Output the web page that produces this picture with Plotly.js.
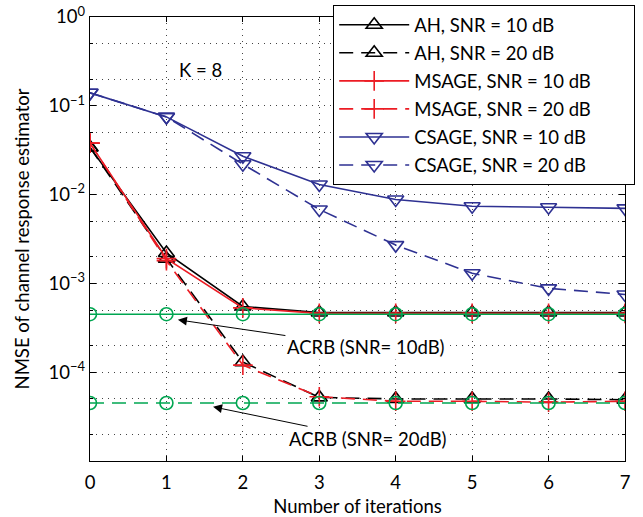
<!DOCTYPE html>
<html><head><meta charset="utf-8">
<script src="https://cdn.plot.ly/plotly-3.0.1.min.js"></script>
<style>html,body{margin:0;padding:0;background:#fff}#plot{width:643px;height:517px}</style>
</head><body><div id="plot"></div>
<script>
const iterations = [0, 1, 2, 3, 4, 5, 6, 7];
const ah10 = [0.034, 0.0022, 5.5e-4, 4.7e-4, 4.7e-4, 4.7e-4, 4.7e-4, 4.7e-4];
const ah20 = [0.034, 0.0019, 1.3e-4, 5.2e-5, 5.0e-5, 5.0e-5, 5.0e-5, 4.9e-5];
const msage10 = [0.038, 0.0019, 5.3e-4, 4.6e-4, 4.6e-4, 4.6e-4, 4.6e-4, 4.6e-4];
const msage20 = [0.038, 0.0018, 1.2e-4, 5.3e-5, 4.7e-5, 4.7e-5, 4.6e-5, 4.7e-5];
const csage10 = [0.14, 0.075, 0.027, 0.013, 0.0088, 0.0074, 0.0072, 0.0070];
const csage20 = [0.14, 0.075, 0.022, 0.0068, 0.0027, 0.0013, 0.00088, 0.00075];
const acrb10 = [4.5e-4, 4.5e-4, 4.5e-4, 4.5e-4, 4.5e-4, 4.5e-4, 4.5e-4, 4.5e-4];
const acrb20 = [4.5e-5, 4.5e-5, 4.5e-5, 4.5e-5, 4.5e-5, 4.5e-5, 4.5e-5, 4.5e-5];
const seriesNames = ['AH, SNR = 10 dB','AH, SNR = 20 dB','MSAGE, SNR = 10 dB','MSAGE, SNR = 20 dB','CSAGE, SNR = 10 dB','CSAGE, SNR = 20 dB'];
const yTickVals = [1e-4, 1e-3, 1e-2, 1e-1, 1];
const yTickText = ['10<sup>−4</sup>', '10<sup>−3</sup>', '10<sup>−2</sup>', '10<sup>−1</sup>', '10<sup>0</sup>'];

const BLACK = '#000000', RED = '#ec1c24', BLUE = '#2e3192', GREEN = '#00a651';
const DASH = '14px,8px';
const PAD = '\u00a0\u00a0\u00a0\u00a0\u00a0\u00a0\u00a0\u00a0';
function tr(y, name, color, dash, symbol, msize, grp) {
  return {x: iterations, y: y, name: name + PAD, type: 'scatter', mode: 'lines+markers',
    legendgroup: grp,
    line: {color: color, width: 1.6, dash: dash},
    marker: {symbol: symbol, size: msize, color: color, line: {color: color, width: 1.6}}};
}
const data = [
  tr(ah10, seriesNames[0], BLACK, 'solid', 'triangle-up-open', 14, 'g1'),
  tr(ah20, seriesNames[1], BLACK, DASH, 'triangle-up-open', 14, 'g2'),
  tr(msage10, seriesNames[2], RED, 'solid', 'cross-thin-open', 14, 'g3'),
  tr(msage20, seriesNames[3], RED, DASH, 'cross-thin-open', 14, 'g4'),
  tr(csage10, seriesNames[4], BLUE, 'solid', 'triangle-down-open', 14, 'g5'),
  tr(csage20, seriesNames[5], BLUE, DASH, 'triangle-down-open', 14, 'g6'),
  Object.assign(tr(acrb10, 'ACRB 10', GREEN, 'solid', 'circle-open', 13, 'g7'), {showlegend: false}),
  Object.assign(tr(acrb20, 'ACRB 20', GREEN, DASH, 'circle-open', 13, 'g8'), {showlegend: false})
];
const FONT = 'Lato, "Open Sans", sans-serif';
const FS = 18.5;
const GRID = '#444';
const layout = {
  width: 643, height: 517,
  margin: {l: 90, r: 18, t: 17, b: 56, autoexpand: false},
  paper_bgcolor: '#fff', plot_bgcolor: '#fff',
  font: {family: FONT, size: FS, color: '#000'},
  showlegend: true,
  legend: {x: 1 + 10 / 535, xanchor: 'right', y: 1 + 12 / 444, yanchor: 'top', bgcolor: '#fff',
    bordercolor: '#000', borderwidth: 1.2, font: {family: FONT, size: FS, color: '#000'},
    traceorder: 'grouped', tracegroupgap: 1, itemwidth: 70},
  xaxis: {range: [0, 7], tickvals: iterations, ticks: 'inside', ticklen: 5, tickcolor: '#000',
    showline: true, linecolor: '#000', linewidth: 1.2, mirror: 'ticks', zeroline: false,
    showgrid: true, gridcolor: GRID, griddash: '1px,5px', gridwidth: 1,
    tickfont: {family: FONT, size: FS}, ticklabelstandoff: 5,
    title: {text: 'Number of iterations', font: {family: FONT, size: FS}, standoff: 7}},
  yaxis: {type: 'log', range: [-5, 0], tickvals: yTickVals, ticktext: yTickText,
    ticks: 'inside', ticklen: 6, tickcolor: '#000',
    showline: true, linecolor: '#000', linewidth: 1.2, mirror: 'ticks', zeroline: false,
    showgrid: true, gridcolor: GRID, griddash: '1px,5px', gridwidth: 1,
    minor: {ticks: 'inside', ticklen: 3, tickcolor: '#000', showgrid: true, gridcolor: GRID, griddash: '1px,5px', gridwidth: 1},
    tickfont: {family: FONT, size: FS},
    title: {text: 'NMSE of channel response estimator', font: {family: FONT, size: FS}, standoff: 14}},
  annotations: [
    {x: 1.44, y: -0.6, xref: 'x', yref: 'y', text: 'K = 8', showarrow: false, font: {family: FONT, size: FS}},
    {x: 1.15, y: -3.41, xref: 'x', yref: 'y', ax: 3.61, ay: -3.72, axref: 'x', ayref: 'y',
     text: 'ACRB (SNR= 10dB)', showarrow: true, arrowhead: 2, arrowsize: 1.8, arrowwidth: 1, arrowcolor: '#000',
     bgcolor: '#fff', font: {family: FONT, size: FS}},
    {x: 1.61, y: -4.39, xref: 'x', yref: 'y', ax: 3.64, ay: -4.75, axref: 'x', ayref: 'y',
     text: 'ACRB (SNR= 20dB)', showarrow: true, arrowhead: 2, arrowsize: 1.8, arrowwidth: 1, arrowcolor: '#000',
     bgcolor: '#fff', font: {family: FONT, size: FS}}
  ]
};
Plotly.newPlot('plot', data, layout, {displayModeBar: false, staticPlot: true});
</script></body></html>
